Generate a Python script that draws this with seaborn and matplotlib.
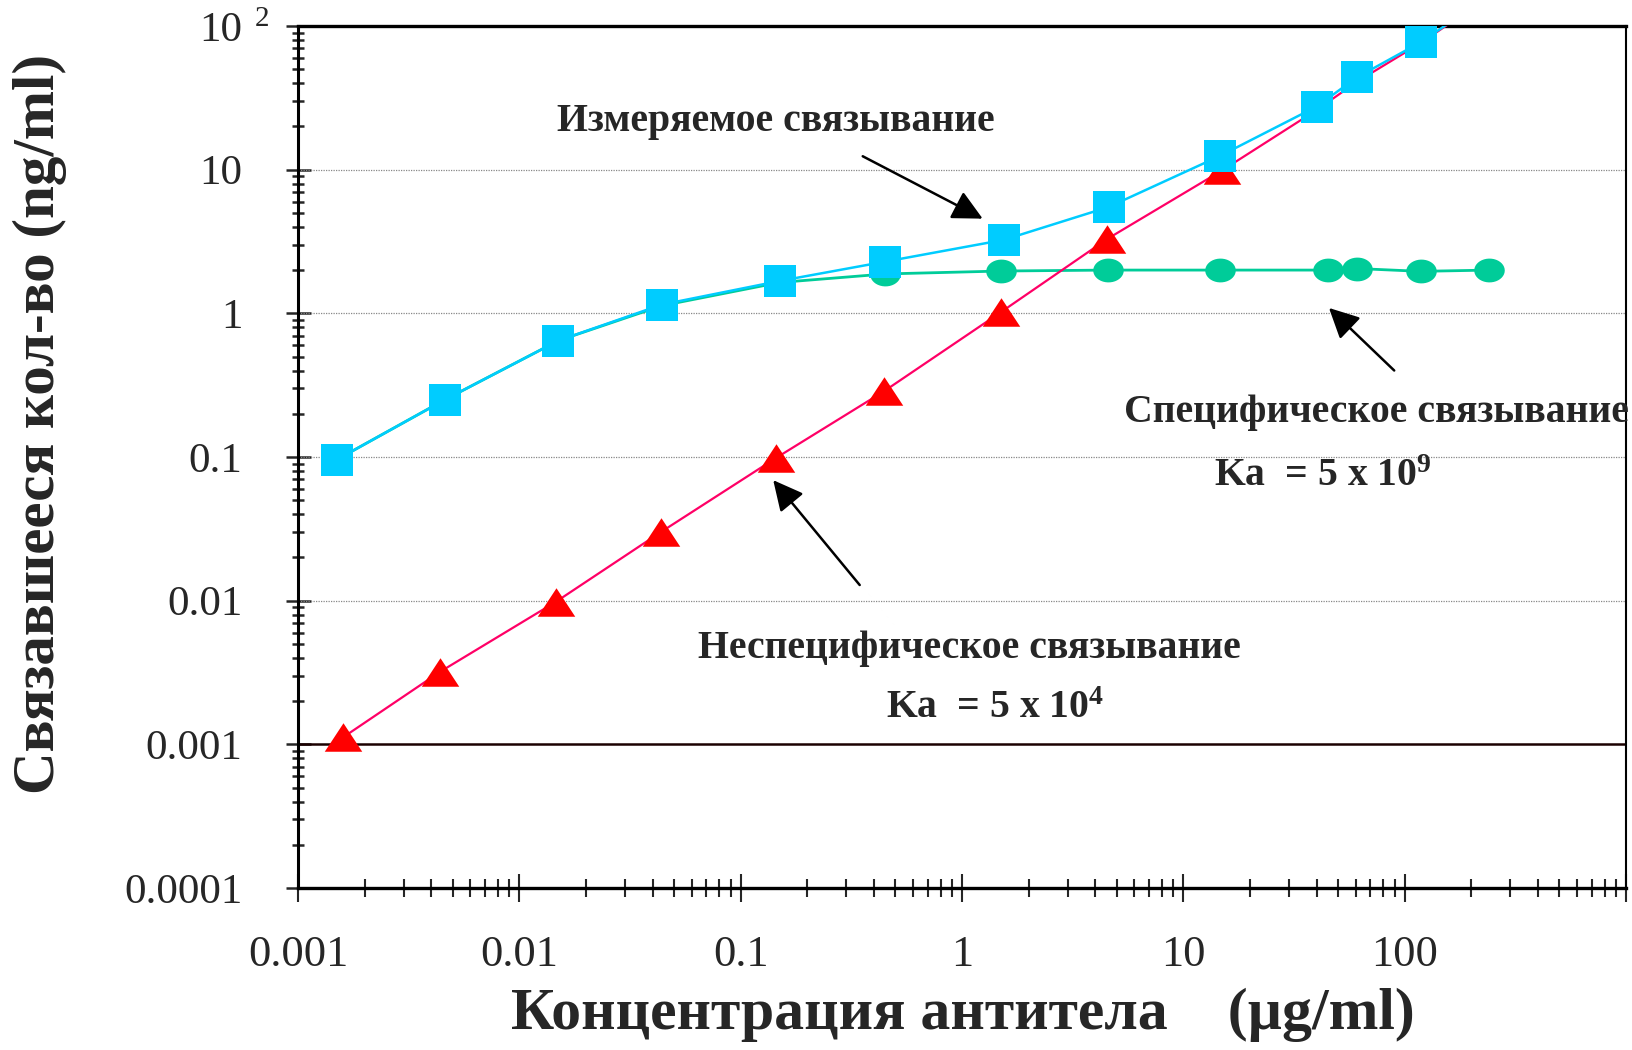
import numpy as np
import pandas as pd
import matplotlib
matplotlib.use("Agg")
import matplotlib.pyplot as plt
import seaborn as sns
from matplotlib.ticker import LogLocator, NullFormatter

# ---------------- data ----------------
measured_x = [0.0015, 0.0046, 0.015, 0.044, 0.15, 0.45, 1.55, 4.6, 14.7, 40, 61, 118, 240]
measured_y = [0.096, 0.25, 0.645, 1.15, 1.68, 2.29, 3.25, 5.5, 12.5, 27.5, 44, 77, 162]

specific_x = [0.0015, 0.0046, 0.015, 0.044, 0.15, 0.45, 1.5, 4.55, 14.6, 45, 61, 118, 240]
specific_y = [0.096, 0.25, 0.645, 1.13, 1.64, 1.88, 1.97, 2.0, 2.0, 2.0, 2.05, 1.96, 2.0]

nonspecific_x = [0.0016, 0.0044, 0.0146, 0.0437, 0.1445, 0.443, 1.5, 4.54, 15.0, 40, 61, 118, 240]
nonspecific_y = [0.00112, 0.00321, 0.0098, 0.0301, 0.0985, 0.286, 1.02, 3.3, 9.9, 26, 41, 76, 160]
nonspecific_visible_markers = 9   # the last points are hidden under the blue squares

y_ticks = [1e-4, 1e-3, 1e-2, 1e-1, 1, 10, 100]
y_labels = ["0.0001", "0.001", "0.01", "0.1", "1", "10", "10"]
y_top_exponent = "2"
x_ticks = [1e-3, 1e-2, 1e-1, 1, 10, 100, 1000]
x_labels = ["0.001", "0.01", "0.1", "1", "10", "100", ""]
grid_levels = [0.01, 0.1, 1, 10]

xlabel = "Концентрация антитела    (\u00b5g/ml)"
ylabel = "Связавшееся кол-во (ng/ml)"
txt_measured = "Измеряемое связывание"
txt_specific = "Специфическое связывание"
txt_specific_ka = r"Ka  = 5 x 10$^{9}$"
txt_nonspec = "Неспецифическое связывание"
txt_nonspec_ka = r"Ka  = 5 x 10$^{4}$"

# ---------------- style ----------------
sns.set_style("white")
plt.rcParams["font.family"] = ["Liberation Serif", "DejaVu Serif"]
plt.rcParams["mathtext.fontset"] = "custom"
plt.rcParams["mathtext.rm"] = "Liberation Serif:bold"
plt.rcParams["mathtext.it"] = "Liberation Serif:bold"
plt.rcParams["mathtext.bf"] = "Liberation Serif:bold"

BLUE = "#00CCFF"
RED_LINE = "#FF0066"
RED = "#FF0000"
GREEN = "#00CC99"

fig = plt.figure(figsize=(16.33, 10.5), dpi=100)
ax = fig.add_axes([298 / 1633, 1 - 888 / 1050, (1626 - 298) / 1633, (888 - 26) / 1050])
ax.set_xscale("log")
ax.set_yscale("log")

# marker shapes
t = np.linspace(0, 2 * np.pi, 40)
ellipse = list(zip(np.cos(t), 0.78 * np.sin(t)))
wide_tri = [(-1, -0.76), (1, -0.76), (0, 0.76), (-1, -0.76)]

df_s = pd.DataFrame({"x": specific_x, "y": specific_y})
df_n = pd.DataFrame({"x": nonspecific_x, "y": nonspecific_y})
df_m = pd.DataFrame({"x": measured_x, "y": measured_y})

sns.lineplot(data=df_s, x="x", y="y", ax=ax, sort=False, estimator=None, errorbar=None,
             color=GREEN, lw=2.0, marker=ellipse, markersize=22, markeredgewidth=0, zorder=3)
sns.lineplot(data=df_n, x="x", y="y", ax=ax, sort=False, estimator=None, errorbar=None,
             color=RED_LINE, lw=1.6, marker=wide_tri, markersize=27, markerfacecolor=RED,
             markeredgewidth=0, markevery=list(range(nonspecific_visible_markers)), zorder=4)
sns.lineplot(data=df_m, x="x", y="y", ax=ax, sort=False, estimator=None, errorbar=None,
             color=BLUE, lw=1.8, marker="s", markersize=23.5, markeredgewidth=0, zorder=5)

ax.set_xlim(1e-3, 1e3)
ax.set_ylim(1e-4, 1e2)
ax.set_xlabel("")
ax.set_ylabel("")

for lv in grid_levels:
    ax.axhline(lv, color="#888888", lw=0.9, ls=(0, (1, 1)), zorder=1)
ax.axhline(1e-3, color="#1a0000", lw=1.8, zorder=2)

# ticks
ax.set_yticks(y_ticks)
ax.set_yticklabels(y_labels)
ax.set_xticks(x_ticks)
ax.set_xticklabels(x_labels)
ax.xaxis.set_minor_locator(LogLocator(base=10, subs=np.arange(2, 10)))
ax.yaxis.set_minor_locator(LogLocator(base=10, subs=np.arange(2, 10)))
ax.xaxis.set_minor_formatter(NullFormatter())
ax.yaxis.set_minor_formatter(NullFormatter())
ax.tick_params(axis="y", which="major", direction="inout", length=18, width=1.8,
               pad=31, labelsize=31, left=True)
ax.tick_params(axis="y", which="minor", direction="inout", length=8, width=1.8, left=True)
ax.tick_params(axis="x", which="major", direction="inout", length=20, width=1.5,
               pad=24, labelsize=32, bottom=True)
ax.tick_params(axis="x", which="minor", direction="inout", length=13, width=1.5, bottom=True)

# superscript of the top y label ("10 2")
ax.annotate(y_top_exponent, xy=(0, y_ticks[-1]), xycoords=("axes fraction", "data"),
            xytext=(-26, 5), textcoords="offset points", ha="center", va="center",
            fontsize=21, annotation_clip=False)

for side, lw in [("left", 2.2), ("bottom", 2.4), ("top", 2.4), ("right", 1.5)]:
    ax.spines[side].set_visible(True)
    ax.spines[side].set_color("black")
    ax.spines[side].set_linewidth(lw)

# annotations
fs = 28.6
arrow_kw = dict(arrowstyle="-|>", color="black", lw=1.8, mutation_scale=46,
                shrinkA=0, shrinkB=0)
ax.text(0.144, 21.5, txt_measured, ha="center", va="center", fontsize=fs, fontweight="bold")
ax.annotate("", xy=(1.24, 4.56), xytext=(0.356, 12.4), arrowprops=arrow_kw, zorder=6)

ax.text(74.5, 0.205, txt_specific, ha="center", va="center", fontsize=fs, fontweight="bold",
        clip_on=False)
ax.text(42.7, 0.0728, txt_specific_ka, ha="center", va="center", fontsize=fs, fontweight="bold")
ax.annotate("", xy=(45.5, 1.09), xytext=(89.7, 0.40), arrowprops=arrow_kw, zorder=6)

ax.text(1.08, 0.00464, txt_nonspec, ha="center", va="center", fontsize=fs, fontweight="bold")
ax.text(1.41, 0.00179, txt_nonspec_ka, ha="center", va="center", fontsize=fs, fontweight="bold")
ax.annotate("", xy=(0.1403, 0.069), xytext=(0.345, 0.01285), arrowprops=arrow_kw, zorder=6)

fig.text(963 / 1633, 1 - 1015 / 1050, xlabel, ha="center", va="center", fontsize=43,
         fontweight="bold")
fig.text(40 / 1633, 1 - 424 / 1050, ylabel, ha="center", va="center", rotation=90,
         fontsize=42.5, fontweight="bold")

fig.savefig("out.png", dpi=100)
